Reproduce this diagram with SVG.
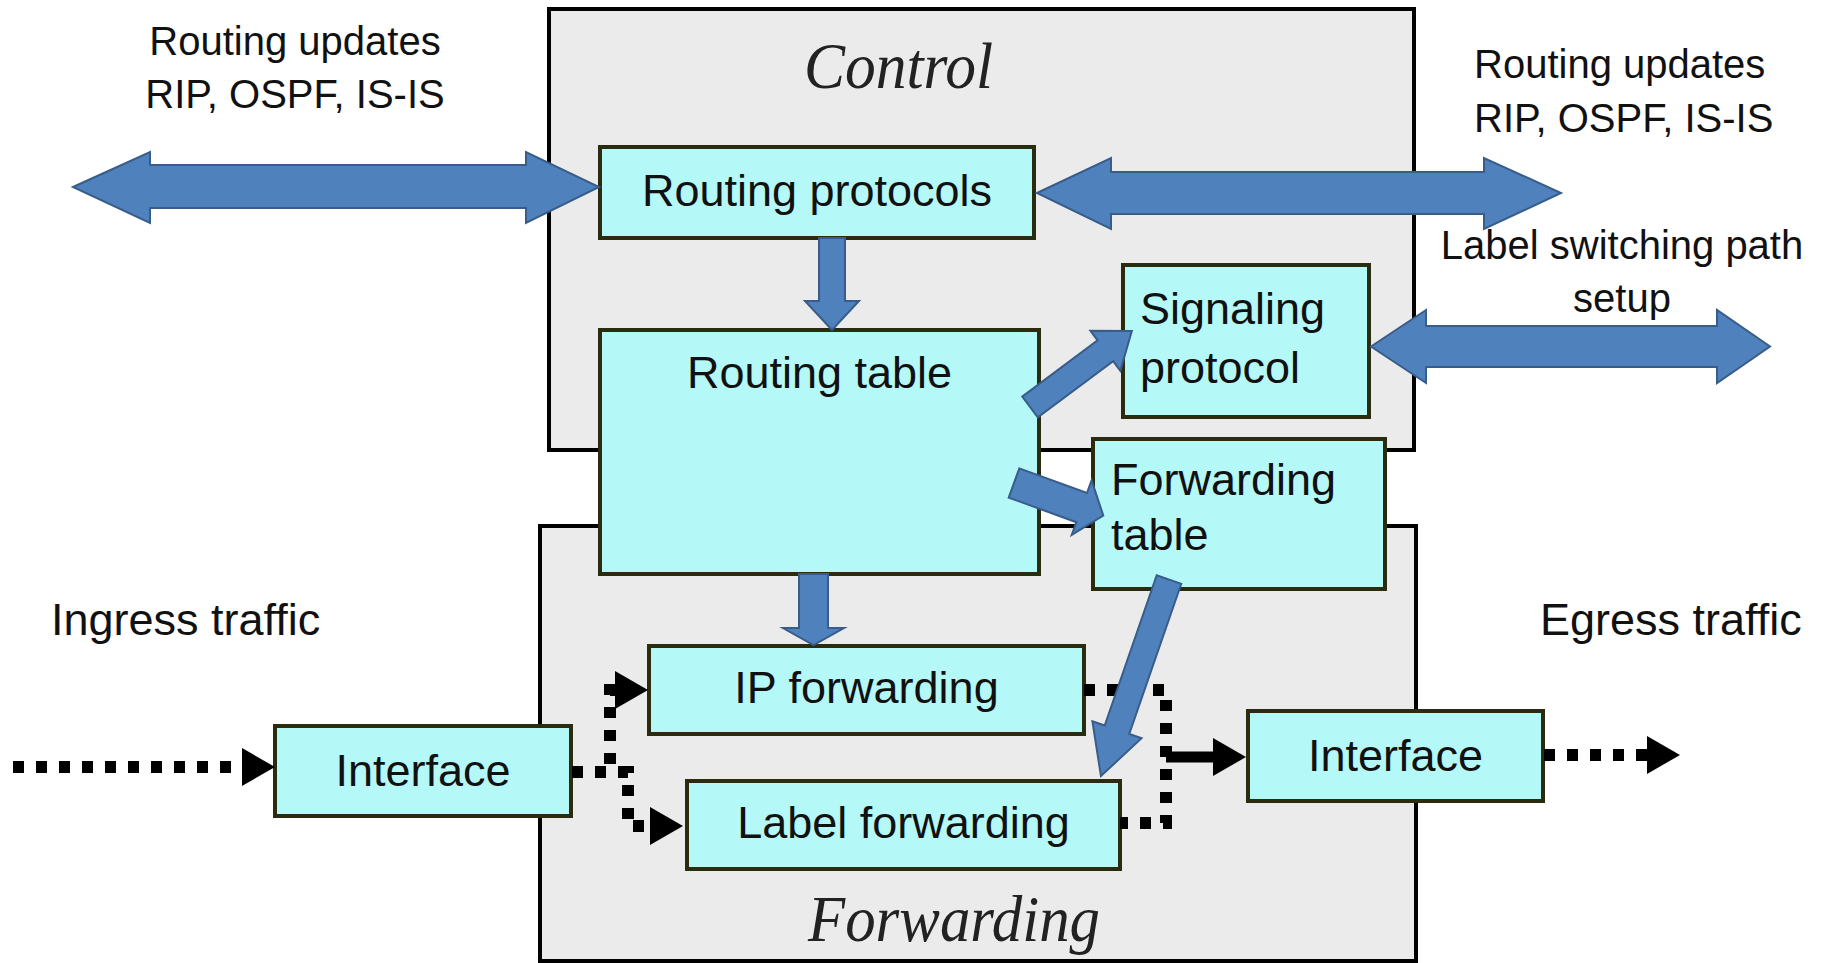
<svg xmlns="http://www.w3.org/2000/svg" width="1827" height="963" viewBox="0 0 1827 963">
<defs>
<style>
.container{fill:#ebebeb;stroke:#000;stroke-width:4}
.box{fill:#b4f8f8;stroke:#2b2b10;stroke-width:4}
.lbl{font-family:"Liberation Sans",Arial,sans-serif;font-size:45px;fill:#111}
.sm{font-size:40px}
.title{font-family:"Liberation Serif","Times New Roman",serif;font-style:italic;font-size:66px;fill:#222}
.blue{fill:#4f81bd;stroke:#385d8a;stroke-width:2}
.dot{fill:none;stroke:#000;stroke-width:12;stroke-dasharray:11 12}
.solid{fill:none;stroke:#000;stroke-width:11}
</style>
<marker id="head" markerUnits="userSpaceOnUse" markerWidth="34" markerHeight="40" viewBox="0 -20 34 40" refX="0" refY="0" orient="auto"><path d="M0,-19 L33,0 L0,19 Z" fill="#000"/></marker>
</defs>
<rect width="1827" height="963" fill="#fff"/>

<g id="control-plane">
<rect class="container" x="549" y="9" width="865" height="441"/>
<text class="title" x="804" y="88" textLength="189" lengthAdjust="spacingAndGlyphs">Control</text>
</g>
<g id="forwarding-plane">
<rect class="container" x="540" y="526" width="876" height="435"/>
<text class="title" x="808" y="941" textLength="292" lengthAdjust="spacingAndGlyphs">Forwarding</text>
</g>

<g id="labels">
<text class="lbl sm" x="295" y="55" text-anchor="middle">Routing updates</text>
<text class="lbl sm" x="295" y="108" text-anchor="middle">RIP, OSPF, IS-IS</text>
<text class="lbl sm" x="1474" y="78">Routing updates</text>
<text class="lbl sm" x="1474" y="132">RIP, OSPF, IS-IS</text>
<text class="lbl sm" x="1622" y="259" text-anchor="middle">Label switching path</text>
<text class="lbl sm" x="1622" y="312" text-anchor="middle">setup</text>
<text class="lbl" x="51" y="635">Ingress traffic</text>
<text class="lbl" x="1540" y="635">Egress traffic</text>
</g>

<g id="routing-protocols">
<rect class="box" x="600" y="147" width="434" height="91"/>
<text class="lbl" x="817" y="206" text-anchor="middle">Routing protocols</text>
</g>
<g id="routing-table">
<rect class="box" x="600" y="330" width="439" height="244"/>
<text class="lbl" x="819.5" y="388" text-anchor="middle">Routing table</text>
</g>
<g id="signaling-protocol">
<rect class="box" x="1123" y="265" width="246" height="152"/>
<text class="lbl" x="1140" y="324">Signaling</text>
<text class="lbl" x="1140" y="383">protocol</text>
</g>
<g id="forwarding-table">
<rect class="box" x="1093" y="439" width="292" height="150"/>
<text class="lbl" x="1111" y="495">Forwarding</text>
<text class="lbl" x="1111" y="550">table</text>
</g>
<g id="ip-forwarding">
<rect class="box" x="649" y="646" width="435" height="88"/>
<text class="lbl" x="866.5" y="703" text-anchor="middle">IP forwarding</text>
</g>
<g id="label-forwarding">
<rect class="box" x="687" y="781" width="433" height="88"/>
<text class="lbl" x="903.5" y="838" text-anchor="middle">Label forwarding</text>
</g>
<g id="interface-in">
<rect class="box" x="275" y="726" width="296" height="90"/>
<text class="lbl" x="423" y="786" text-anchor="middle">Interface</text>
</g>
<g id="interface-out">
<rect class="box" x="1248" y="711" width="295" height="90"/>
<text class="lbl" x="1395.5" y="771" text-anchor="middle">Interface</text>
</g>

<g id="connectors">
<path class="dot" d="M13,767 H242" marker-end="url(#head)"/>
<path class="dot" d="M572,772 H610 V690 H615" marker-end="url(#head)"/>
<path class="dot" d="M572,772 H628 V826 H650" marker-end="url(#head)"/>
<path class="dot" d="M1084,690 H1166 V823 H1120"/>
<path class="solid" d="M1166,757 H1213" marker-end="url(#head)"/>
<path class="dot" d="M1544,755 H1647" marker-end="url(#head)"/>

<polygon class="blue" points="73,187 150,152 150,165 526,165 526,152 599,187 526,223 526,208 150,208 150,223"/>
<polygon class="blue" points="1037,193 1111,158 1111,172 1484,172 1484,158 1561,193 1484,229 1484,214 1111,214 1111,229"/>
<polygon class="blue" points="1371,346.5 1426,310 1426,326 1717,326 1717,310 1770,346.5 1717,383 1717,367 1426,367 1426,383"/>
<polygon class="blue" points="819,238 845,238 845,301 859,301 832,330 805,301 819,301"/>
<polygon class="blue" points="799,574 828,574 828,628 844,628 813.5,645 783,628 799,628"/>
<polygon class="blue" transform="translate(1030,407) rotate(-36.7)" points="0,-13 94,-13 94,-25 127,0 94,25 94,13 0,13"/>
<polygon class="blue" transform="translate(1014,483) rotate(20)" points="0,-15.5 72,-15.5 72,-29 95,0 72,29 72,15.5 0,15.5"/>
<polygon class="blue" transform="translate(1169,579.5) rotate(109.1)" points="0,-13 159,-13 159,-26 208,0 159,26 159,13 0,13"/>
</g>
</svg>
